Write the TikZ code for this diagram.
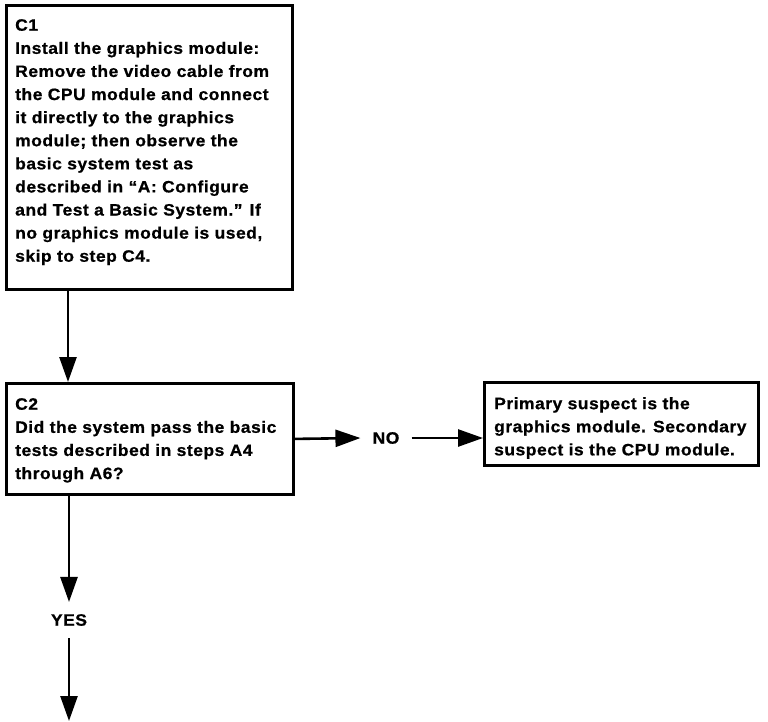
\documentclass[tikz,border=0pt]{standalone}
\usepackage{fontspec}
\newfontfamily\manualfont{Liberation Sans}[UprightFont=* Bold, FakeStretch=1.06, LetterSpace=3, FakeBold=0.8]
\usetikzlibrary{arrows.meta}
\begin{document}
\begin{tikzpicture}[x=1pt, y=-1pt,
  stepbox/.style={draw, line width=2.8pt, inner sep=0pt, anchor=north west},
  boxtext/.style={inner sep=0pt, align=left, anchor=north west,
    font=\manualfont\fontsize{16.5}{23.1}\selectfont},
  answer/.style={inner sep=12pt, font=\manualfont\fontsize{16.5}{23.1}\selectfont},
  flow/.style={line width=2.6pt, -{Triangle[length=25pt,width=17pt]}}]
\useasboundingbox (0,0) rectangle (768,721);

% step C1
\node[stepbox, minimum width=286pt, minimum height=284pt] (c1) at (5,4) {};
\node[boxtext] (c1text) at (15,19) {C1\\
Install the graphics module:\\
Remove the video cable from\\
the CPU module and connect\\
it directly to the graphics\\
module; then observe the\\
basic system test as\\
described in “A: Configure\\
and Test a Basic System.” If\\
no graphics module is used,\\
skip to step C4.};

% step C2
\node[stepbox, minimum width=287pt, minimum height=111pt] (c2) at (5,382) {};
\node[boxtext] (c2text) at (15,398) {C2\\
Did the system pass the basic\\
tests described in steps A4\\
through A6?};

% outcome for NO
\node[stepbox, minimum width=274pt, minimum height=83pt] (suspect) at (483,381) {};
\node[boxtext] (suspecttext) at (494,397) {Primary suspect is the\\
graphics module. Secondary\\
suspect is the CPU module.};

% answers
\node[answer] (no) at (386,438) {NO};
\node[answer] (yes) at (69,620) {YES};
\coordinate (next) at (69,721);

% connectors
\draw[flow] ([xshift=63pt]c1.south west) -- ([xshift=63pt]c2.north west);
\draw[flow] (c2.east) -- (no.west);
\draw[flow] (no.east) -- (suspect.west |- no.east);
\draw[flow] (yes.north |- c2.south) -- (yes.north);
\draw[flow] (yes.south) -- (next);
\end{tikzpicture}
\end{document}
